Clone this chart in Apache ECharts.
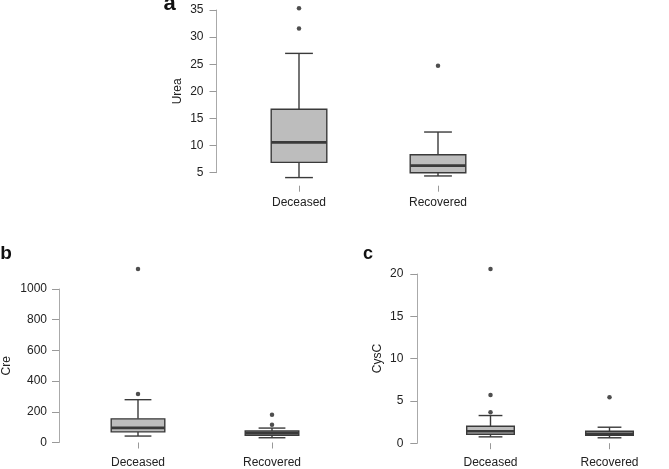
<!DOCTYPE html>
<html>
<head>
<meta charset="utf-8">
<title>Urea / Cre / CysC boxplots</title>
<script src="https://cdn.jsdelivr.net/npm/echarts@6/dist/echarts.min.js"></script>
<style>
  html, body { margin: 0; padding: 0; background: #fff; }
  #chart { width: 669px; height: 469px; }
</style>
</head>
<body>
<div id="chart"></div>
<script>
// groups on the x axis
const categories = ['Deceased', 'Recovered']

// box stats per group: [lower whisker, Q1, median, Q3, upper whisker]
const ureaBox = [[4.1, 6.9, 10.6, 16.7, 27.0], [4.4, 5.0, 6.3, 8.3, 12.5]]
const creBox = [[42, 69, 95, 154, 279], [31, 47, 61, 75, 94]]
const cysBox = [[0.75, 1.06, 1.42, 2.0, 3.27], [0.64, 0.94, 1.1, 1.42, 1.89]]

// outliers: [group index, value]
const ureaOutliers = [[0, 35.3], [0, 31.6], [1, 24.7]]
const creOutliers = [[0, 1131], [0, 316], [1, 181], [1, 115]]
const cysOutliers = [[0, 20.6], [0, 5.7], [0, 3.66], [1, 5.42]]

// y tick ranges
const ureaTicks = { min: 5, max: 35, interval: 5 }
const creTicks = { min: 0, max: 1000, interval: 200 }
const cysTicks = { min: 0, max: 20, interval: 5 }

const FONT = "'Liberation Sans', Arial, sans-serif"
const INK = '#3a3a3a'

function renderBox(params, api) {
    const i = api.value(0)
    const lo = api.coord([i, api.value(1)])
    const q1 = api.coord([i, api.value(2)])
    const md = api.coord([i, api.value(3)])
    const q3 = api.coord([i, api.value(4)])
    const hi = api.coord([i, api.value(5)])
    const bw = api.size([1, 0])[0] * 0.4
    const cw = bw / 2
    const cx = md[0]
    const line = (x1, y1, x2, y2, w) => ({
        type: 'line',
        shape: { x1, y1, x2, y2 },
        style: { stroke: INK, lineWidth: w || 1.4 }
    })
    return {
        type: 'group',
        children: [
            line(cx, hi[1], cx, q3[1]),
            line(cx, q1[1], cx, lo[1]),
            line(cx - cw / 2, hi[1], cx + cw / 2, hi[1]),
            line(cx - cw / 2, lo[1], cx + cw / 2, lo[1]),
            {
                type: 'rect',
                shape: { x: cx - bw / 2, y: q3[1], width: bw, height: q1[1] - q3[1] },
                style: { fill: '#bdbdbd', stroke: INK, lineWidth: 1.4 }
            },
            line(cx - bw / 2, md[1], cx + bw / 2, md[1], 2.6)
        ]
    }
}

function xAxisFor(gridIndex, offset, margin) {
    return {
        type: 'category',
        gridIndex,
        data: categories,
        offset,
        axisLine: { show: false },
        axisTick: { show: true, alignWithLabel: true, length: 6, lineStyle: { color: '#999', width: 1 } },
        axisLabel: { color: '#222', fontSize: 12, fontFamily: FONT, margin }
    }
}

function yAxisFor(gridIndex, ticks, name, offset, margin, nameGap) {
    return {
        type: 'value',
        gridIndex,
        min: ticks.min,
        max: ticks.max,
        interval: ticks.interval,
        offset,
        name,
        nameLocation: 'middle',
        nameRotate: 90,
        nameGap,
        nameTextStyle: { color: '#222', fontSize: 12, fontFamily: FONT },
        splitLine: { show: false },
        axisLine: { show: true, lineStyle: { color: '#aaa', width: 1 } },
        axisTick: { show: true, length: 7, lineStyle: { color: '#999', width: 1 } },
        axisLabel: { color: '#222', fontSize: 12, fontFamily: FONT, margin, formatter: v => String(v) }
    }
}

function boxSeries(idx, box) {
    return {
        type: 'custom',
        xAxisIndex: idx,
        yAxisIndex: idx,
        clip: false,
        renderItem: renderBox,
        encode: { x: 0, y: [1, 2, 3, 4, 5] },
        data: box.map((b, i) => [i].concat(b)),
        silent: true
    }
}

function outlierSeries(idx, pts) {
    return {
        type: 'scatter',
        xAxisIndex: idx,
        yAxisIndex: idx,
        clip: false,
        symbol: 'circle',
        symbolSize: 4.5,
        itemStyle: { color: '#222' },
        data: pts,
        silent: true
    }
}

const chart = echarts.init(document.getElementById('chart'), null, { renderer: 'canvas' })

chart.setOption({
    animation: false,
    backgroundColor: '#fff',
    grid: [
        { left: 229.5, top: 10, width: 278, height: 162.7 },
        { left: 71, top: 289, width: 268, height: 155 },
        { left: 431, top: 274, width: 278, height: 169.7 }
    ],
    xAxis: [
        xAxisFor(0, 13, 11),
        xAxisFor(1, 4.5, 10),
        xAxisFor(2, 3.8, 10)
    ],
    yAxis: [
        yAxisFor(0, ureaTicks, 'Urea', 13, 13, 33),
        yAxisFor(1, creTicks, 'Cre', 12, 12, 46),
        yAxisFor(2, cysTicks, 'CysC', 13.7, 14, 34)
    ],
    graphic: [
        { type: 'text', x: 169.5, y: 4, style: { text: 'a', fontSize: 22, fontWeight: 'bold', fontFamily: FONT, fill: '#111', align: 'center', verticalAlign: 'middle' } },
        { type: 'text', x: 6, y: 253.7, style: { text: 'b', fontSize: 19, fontWeight: 'bold', fontFamily: FONT, fill: '#111', align: 'center', verticalAlign: 'middle' } },
        { type: 'text', x: 368, y: 253.6, style: { text: 'c', fontSize: 18, fontWeight: 'bold', fontFamily: FONT, fill: '#111', align: 'center', verticalAlign: 'middle' } }
    ],
    series: [
        boxSeries(0, ureaBox),
        outlierSeries(0, ureaOutliers),
        boxSeries(1, creBox),
        outlierSeries(1, creOutliers),
        boxSeries(2, cysBox),
        outlierSeries(2, cysOutliers)
    ]
})
</script>
</body>
</html>
